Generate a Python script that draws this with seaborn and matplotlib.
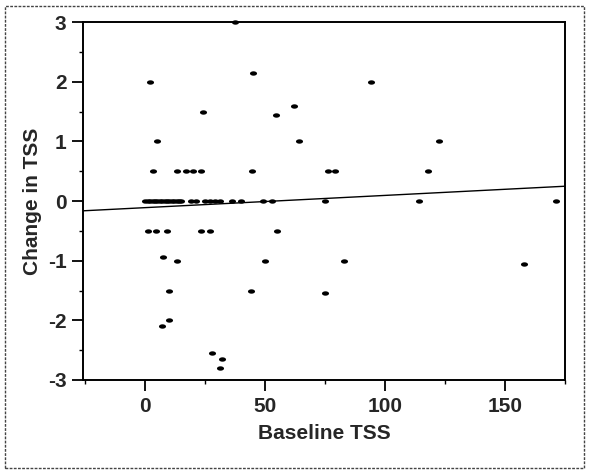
"""Change in TSS against baseline TSS, scatter with a fitted line."""

import matplotlib

matplotlib.use("Agg")
import matplotlib.pyplot as plt
import numpy as np
import pandas as pd
import seaborn as sns
from matplotlib.patches import Rectangle
from matplotlib.ticker import MultipleLocator

# values
baseline_tss = [
    37.5, 45, 2, 94, 62, 54.5, 24, 5, 64, 122.5,
    3, 13, 17, 20, 23, 44.5, 76, 79, 118,
    0, 1, 2, 3, 4, 5, 6, 7, 8, 9, 10, 11, 12, 13, 14, 15,
    19, 21, 25, 27, 29, 31, 36, 40, 49, 53, 75, 114, 171.5,
    1, 4.5, 9, 23, 27, 55,
    7.5, 13, 50, 83, 158,
    10, 44, 75, 10, 7, 28, 32, 31,
]
change_tss = [
    3.0, 2.15, 2.0, 2.0, 1.6, 1.45, 1.5, 1.0, 1.0, 1.0,
    0.5, 0.5, 0.5, 0.5, 0.5, 0.5, 0.5, 0.5, 0.5,
    0, 0, 0, 0, 0, 0, 0, 0, 0, 0, 0, 0, 0, 0, 0, 0,
    0, 0, 0, 0, 0, 0, 0, 0, 0, 0, 0, 0, 0,
    -0.5, -0.5, -0.5, -0.5, -0.5, -0.5,
    -0.93, -1.0, -1.0, -1.0, -1.05,
    -1.5, -1.5, -1.55, -2.0, -2.1, -2.55, -2.65, -2.8,
]
fit_intercept = -0.11
fit_slope = 0.00205

x_ticks = [0, 50, 100, 150]
y_ticks = [-3, -2, -1, 0, 1, 2, 3]

frame = pd.DataFrame({"baseline": baseline_tss, "change": change_tss})

sns.set_theme(style="ticks")
plt.rcParams["font.family"] = ["Liberation Sans", "DejaVu Sans"]
plt.rcParams["font.weight"] = "bold"
plt.rcParams["axes.unicode_minus"] = False

fig = plt.figure(figsize=(5.89, 4.72), dpi=100)
ax = fig.add_axes([0.141, 0.195, 0.818, 0.758])

# flat oval marker, like the scanned dots
theta = np.linspace(0, 2 * np.pi, 30)
oval = np.column_stack([1.0 * np.cos(theta), 0.62 * np.sin(theta)])

sns.scatterplot(
    data=frame,
    x="baseline",
    y="change",
    marker=oval,
    s=26,
    color="black",
    edgecolor="black",
    linewidth=0,
    ax=ax,
    clip_on=False,
    zorder=3,
)
ax.axline((0, fit_intercept), slope=fit_slope, color="black", linewidth=1.0)

ax.set_xlim(-26, 175)
ax.set_ylim(-3, 3)
ax.set_xticks(x_ticks)
ax.set_yticks(y_ticks)
ax.xaxis.set_minor_locator(MultipleLocator(25))
ax.yaxis.set_minor_locator(MultipleLocator(0.5))
ax.tick_params(which="major", length=8, width=1.3, color="black",
               labelsize=15, pad=4)
ax.tick_params(which="minor", length=3, width=1.0, color="black")
for label in ax.get_xticklabels() + ax.get_yticklabels():
    label.set_fontweight("bold")
for spine in ax.spines.values():
    spine.set_visible(True)
    spine.set_color("black")
    spine.set_linewidth(1.4)

ax.set_xlabel("Baseline TSS", fontsize=15, fontweight="bold", labelpad=6)
ax.set_ylabel("Change in TSS", fontsize=15, fontweight="bold", labelpad=4)

fig.patches.append(
    Rectangle((0.009, 0.008), 0.982, 0.98, transform=fig.transFigure,
              fill=False, edgecolor="#444444", linewidth=1.0,
              linestyle=(0, (2, 1)))
)

fig.savefig("out.png", dpi=100)
